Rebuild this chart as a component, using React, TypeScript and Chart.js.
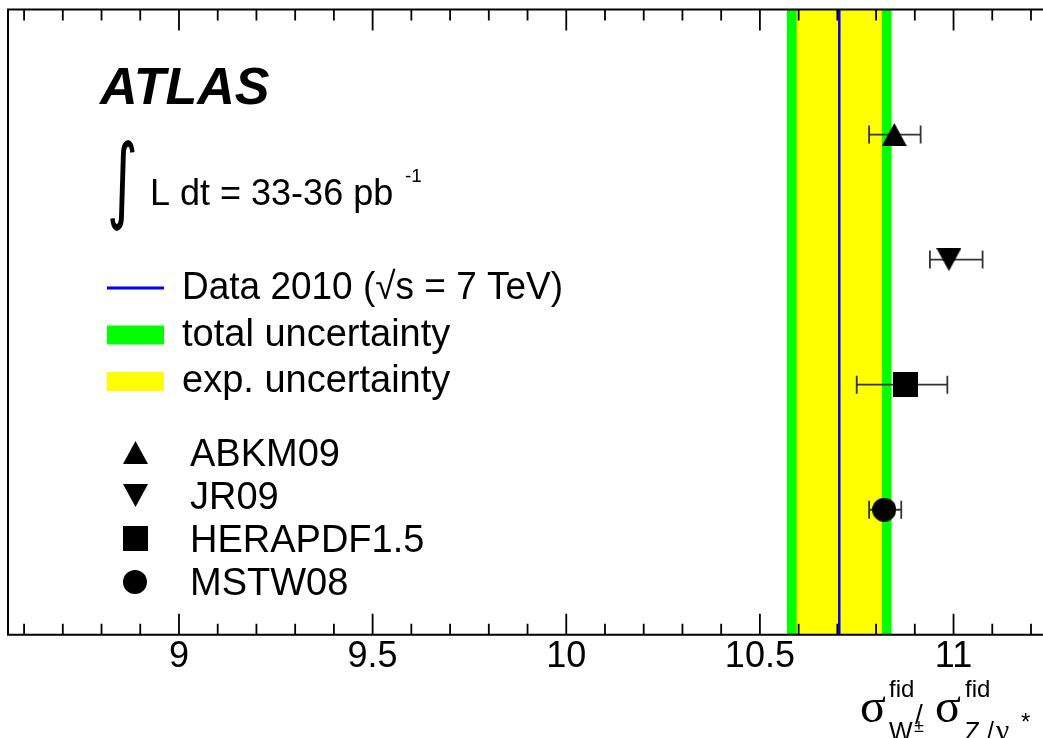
import React, { useEffect, useRef } from 'react';
import { Chart, registerables } from 'chart.js';

Chart.register(...registerables);

// ---------------- data ----------------
const models = ['ABKM09', 'JR09', 'HERAPDF1.5', 'MSTW08'];
const modelValues = [10.847, 10.988, 10.877, 10.821];
const modelErrLow = [10.782, 10.939, 10.75, 10.782];
const modelErrHigh = [10.915, 11.075, 10.984, 10.865];
const modelRows = [4, 3, 2, 1];
const modelMarkers = ['triangleUp', 'triangleDown', 'square', 'circle'];

const dataCentral = 10.705;
const expUnc = 0.11;
const totalUnc = 0.135;

const xMajorTicks = [9, 9.5, 10, 10.5, 11];
const xMinorTicks = [8.6, 8.7, 8.8, 8.9, 9.1, 9.2, 9.3, 9.4, 9.6, 9.7, 9.8, 9.9, 10.1, 10.2, 10.3, 10.4, 10.6, 10.7, 10.8, 10.9, 11.1, 11.2];
const xMin = 8.5585;
const xMax = 11.231;
const yMin = 0;
const yMax = 5;

const legendTexts = ['Data 2010 (\u221As = 7 TeV)', 'total uncertainty', 'exp. uncertainty'];

const FONT = "'Liberation Sans', Arial, Helvetica, sans-serif";
const SERIF = "'Liberation Serif', 'DejaVu Serif', serif";

function makeMarker(kind: string): HTMLCanvasElement {
  const c = document.createElement('canvas');
  let w = 25, h = 23;
  if (kind === 'square') { w = 25; h = 25; }
  if (kind === 'circle') { w = 24; h = 24; }
  c.width = w; c.height = h;
  const ctx = c.getContext('2d')!;
  ctx.fillStyle = '#000';
  ctx.beginPath();
  if (kind === 'triangleUp') { ctx.moveTo(w / 2, 0); ctx.lineTo(w, h); ctx.lineTo(0, h); }
  else if (kind === 'triangleDown') { ctx.moveTo(0, 0); ctx.lineTo(w, 0); ctx.lineTo(w / 2, h); }
  else if (kind === 'square') { ctx.rect(0, 0, w, h); }
  else { ctx.arc(w / 2, h / 2, w / 2, 0, Math.PI * 2); }
  ctx.closePath();
  ctx.fill();
  return c;
}

export default function App() {
  const ref = useRef<HTMLCanvasElement>(null);

  useEffect(() => {
    const canvas = ref.current!;
    const markerImgs = modelMarkers.map(makeMarker);

    const bandsPlugin = {
      id: 'bands',
      beforeDatasetsDraw(chart: any) {
        const { ctx, chartArea } = chart;
        const xs = chart.scales.x;
        const ys = chart.scales.y;
        ctx.save();
        ctx.beginPath();
        ctx.rect(chartArea.left, chartArea.top, chartArea.right - chartArea.left, chartArea.bottom - chartArea.top);
        ctx.clip();
        const top = chartArea.top, bot = chartArea.bottom;
        const g0 = xs.getPixelForValue(dataCentral - totalUnc);
        const g1 = xs.getPixelForValue(dataCentral + totalUnc);
        ctx.fillStyle = '#00ff00';
        ctx.fillRect(g0, top, g1 - g0, bot - top);
        const y0 = xs.getPixelForValue(dataCentral - expUnc);
        const y1 = xs.getPixelForValue(dataCentral + expUnc);
        ctx.fillStyle = '#ffff00';
        ctx.fillRect(y0, top, y1 - y0, bot - top);
        const c = xs.getPixelForValue(dataCentral);
        ctx.strokeStyle = '#0000ff';
        ctx.lineWidth = 2.5;
        ctx.beginPath();
        ctx.moveTo(c, top);
        ctx.lineTo(c, bot);
        ctx.stroke();
        // error bars
        ctx.strokeStyle = '#333333';
        ctx.lineWidth = 1.8;
        for (let i = 0; i < models.length; i++) {
          const y = ys.getPixelForValue(modelRows[i]);
          const a = xs.getPixelForValue(modelErrLow[i]);
          const b = xs.getPixelForValue(modelErrHigh[i]);
          ctx.beginPath();
          ctx.moveTo(a, y); ctx.lineTo(b, y);
          ctx.moveTo(a, y - 9); ctx.lineTo(a, y + 9);
          ctx.moveTo(b, y - 9); ctx.lineTo(b, y + 9);
          ctx.stroke();
        }
        ctx.restore();
      },
      afterDatasetsDraw(chart: any) {
        const { ctx, chartArea } = chart;
        const xs = chart.scales.x;
        const { left, right, top, bottom } = chartArea;
        ctx.save();
        // frame
        ctx.strokeStyle = '#000';
        ctx.lineWidth = 2;
        ctx.beginPath();
        ctx.moveTo(right + 2, top); ctx.lineTo(left, top); ctx.lineTo(left, bottom); ctx.lineTo(right + 2, bottom);
        ctx.stroke();
        // ticks
        ctx.lineWidth = 1.8;
        ctx.beginPath();
        for (const v of xMajorTicks) {
          const p = xs.getPixelForValue(v);
          ctx.moveTo(p, bottom); ctx.lineTo(p, bottom - 21);
          ctx.moveTo(p, top); ctx.lineTo(p, top + 21);
        }
        for (const v of xMinorTicks) {
          const p = xs.getPixelForValue(v);
          ctx.moveTo(p, bottom); ctx.lineTo(p, bottom - 11);
          ctx.moveTo(p, top); ctx.lineTo(p, top + 11);
        }
        ctx.stroke();

        ctx.fillStyle = '#000';
        ctx.textBaseline = 'alphabetic';
        ctx.textAlign = 'left';
        // ATLAS
        ctx.font = `italic bold 52px ${FONT}`;
        ctx.fillText('ATLAS', 100, 104);

        // integral
        ctx.save();
        ctx.font = `100px 'DejaVu Sans'`;
        const m = ctx.measureText('\u222B');
        const gw = m.actualBoundingBoxLeft + m.actualBoundingBoxRight;
        const gh = m.actualBoundingBoxAscent + m.actualBoundingBoxDescent;
        ctx.translate(110, 140);
        ctx.scale(25 / gw, 92 / gh);
        ctx.fillText('\u222B', m.actualBoundingBoxLeft, m.actualBoundingBoxAscent);
        ctx.restore();
        ctx.font = `36px ${FONT}`;
        ctx.fillText('L dt = 33-36 pb', 150, 205);
        ctx.font = `19px ${FONT}`;
        ctx.fillText('-1', 405, 182);

        // legend: data
        ctx.strokeStyle = '#0000ff';
        ctx.lineWidth = 3;
        ctx.beginPath();
        ctx.moveTo(107, 288); ctx.lineTo(164, 288);
        ctx.stroke();
        ctx.fillStyle = '#00ff00';
        ctx.fillRect(107, 325.5, 57, 19);
        ctx.fillStyle = '#ffff00';
        ctx.fillRect(107, 372, 57, 19);
        ctx.fillStyle = '#000';
        ctx.font = `38px ${FONT}`;
        ctx.fillText(legendTexts[0], 182, 299, 381);
        ctx.fillText(legendTexts[1], 182, 345.5);
        ctx.fillText(legendTexts[2], 182, 391.5);

        // legend: models
        const rowsY = [466, 509, 552, 595];
        for (let i = 0; i < models.length; i++) {
          const img = markerImgs[i];
          const cy = rowsY[i] - 13.5;
          ctx.drawImage(img, Math.round(135 - img.width / 2), Math.round(cy - img.height / 2));
          ctx.fillText(models[i], 190, rowsY[i]);
        }

        // axis title
        ctx.font = `48px ${SERIF}`;
        ctx.fillText('\u03C3', 860, 722);
        ctx.fillText('\u03C3', 935, 722);
        ctx.font = `24px ${FONT}`;
        ctx.fillText('fid', 889, 697);
        ctx.fillText('fid', 965, 697);
        ctx.font = `25px ${FONT}`;
        ctx.fillText('W', 889, 740);
        ctx.fillText('Z', 965, 740);
        ctx.fillText('/', 987, 740);
        ctx.font = `30px ${SERIF}`;
        ctx.fillText('\u03B3', 996, 740);
        ctx.font = `18px ${FONT}`;
        ctx.fillText('\u00B1', 914, 732);
        ctx.font = `24px ${FONT}`;
        ctx.fillText('*', 1021, 730);
        ctx.font = `28px ${FONT}`;
        ctx.fillText('/', 915, 724);

        ctx.restore();
      },
    };

    const chart = new Chart(canvas, {
      type: 'scatter',
      data: {
        datasets: models.map((name, i) => ({
          label: name,
          data: [{ x: modelValues[i], y: modelRows[i] }],
          pointStyle: markerImgs[i] as any,
          pointRadius: 12,
          backgroundColor: '#000',
          borderColor: '#000',
          showLine: false,
        })),
      },
      options: {
        responsive: false,
        animation: false,
        layout: { autoPadding: false, padding: { left: 8, top: 9.5, right: 0, bottom: 58 } },
        scales: {
          x: {
            type: 'linear',
            min: xMin,
            max: xMax,
            position: 'bottom',
            grid: { display: false, drawTicks: false },
            border: { display: false },
            ticks: {
              font: { family: FONT, size: 36 },
              color: '#000',
              padding: 1,
              maxRotation: 0,
              autoSkip: false,
              callback: (v: any) => String(v),
            },
            afterBuildTicks: (s: any) => { s.ticks = xMajorTicks.map((v) => ({ value: v })); },
          },
          y: { type: 'linear', min: yMin, max: yMax, display: false },
        },
        plugins: { legend: { display: false }, tooltip: { enabled: false } },
      },
      plugins: [bandsPlugin],
    });
    return () => chart.destroy();
  }, []);

  return (
    <canvas
      ref={ref}
      width={1043}
      height={738}
      style={{ position: 'fixed', left: 0, top: 0, width: 1043, height: 738, display: 'block' }}
    />
  );
}
